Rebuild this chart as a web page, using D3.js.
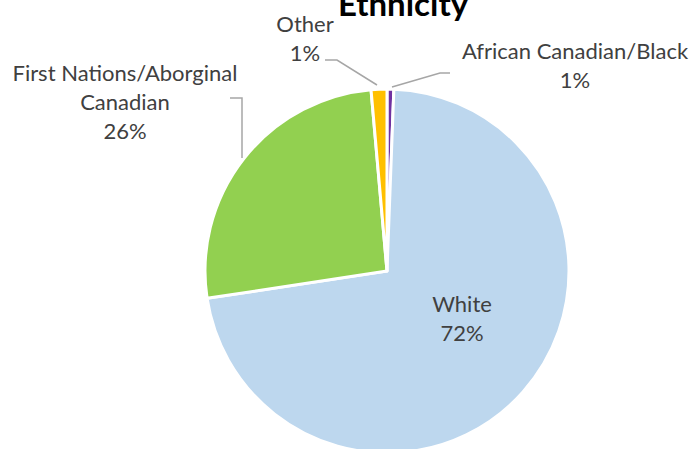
<!DOCTYPE html>
<html>
<head>
<meta charset="utf-8">
<script src="https://cdn.jsdelivr.net/npm/d3@7"></script>
<style>
  body { margin: 0; background: #fff; }
  svg { display: block; }
  text { font-family: Lato, "Open Sans", sans-serif; }
</style>
</head>
<body>
<div id="chart"></div>
<script>
// data, in Excel's slice order (clockwise from 12 o'clock)
const categories = ['African Canadian/Black', 'White', 'First Nations/Aborginal Canadian', 'Other']
const shares = [0.6, 72.0, 26.0, 1.4]
const percentLabels = ['1%', '72%', '26%', '1%']
const labelLines = [['African Canadian/Black'], ['White'], ['First Nations/Aborginal', 'Canadian'], ['Other']]
const colors = ['#7030A0', '#BDD7EE', '#92D050', '#FFC000']

// label layout (hand placed like in the original)
const labelPos = [
    { x: 575, y: 59 },
    { x: 462, y: 312 },
    { x: 125, y: 81 },
    { x: 305, y: 32 }
]
const leaders = [
    [[392, 87], [440, 73], [450, 73]],
    null,
    [[230, 98], [242, 98], [242, 158]],
    [[325, 60], [337, 60], [377, 85]]
]

const width = 694, height = 449
const cx = 387, cy = 271, radius = 182
const lineH = 29

const svg = d3.select('#chart')
    .append('svg')
    .attr('width', width)
    .attr('height', height)

const pie = d3.pie().sort(null).value(d => d)
const arc = d3.arc().innerRadius(0).outerRadius(radius)

const g = svg.append('g')
    .attr('transform', `translate(${cx},${cy})`)

g.selectAll('path')
    .data(pie(shares))
    .join('path')
    .attr('d', arc)
    .attr('fill', (d, i) => colors[i])
    .attr('stroke', '#fff')
    .attr('stroke-width', 3)
    .attr('stroke-linejoin', 'round')

// leader lines
const line = d3.line()
leaders.forEach(pts => {
    if (!pts) return
    svg.append('path')
        .attr('d', line(pts))
        .attr('fill', 'none')
        .attr('stroke', '#A6A6A6')
        .attr('stroke-width', 1.5)
})

// data labels
categories.forEach((c, i) => {
    const lines = labelLines[i].concat([percentLabels[i]])
    const t = svg.append('text')
        .attr('x', labelPos[i].x)
        .attr('y', labelPos[i].y)
        .attr('text-anchor', 'middle')
        .attr('font-size', 22)
        .attr('fill', '#404040')
    lines.forEach((s, k) => {
        t.append('tspan')
            .attr('x', labelPos[i].x)
            .attr('y', labelPos[i].y + k * lineH)
            .text(s)
    })
})

// title (cut off at the top edge, as in the original)
svg.append('text')
    .attr('x', 403)
    .attr('y', 16)
    .attr('text-anchor', 'middle')
    .attr('font-size', 33)
    .attr('font-weight', 'bold')
    .attr('fill', '#000')
    .text('Ethnicity')
</script>
</body>
</html>
